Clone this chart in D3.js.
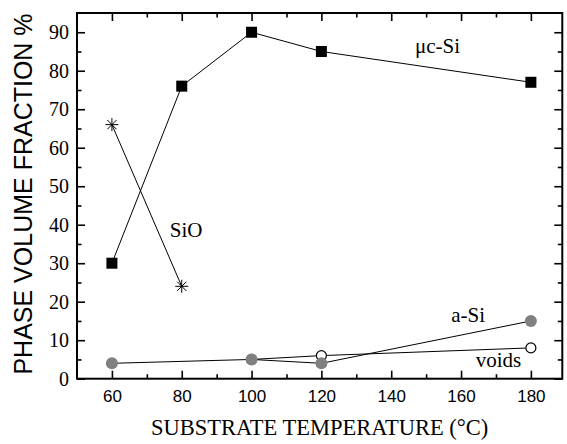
<!DOCTYPE html>
<html>
<head>
<meta charset="utf-8">
<script src="https://cdn.jsdelivr.net/npm/d3@7"></script>
<style>
body { margin: 0; background: #fff; }
</style>
</head>
<body>
<svg id="chart" width="567" height="444"></svg>
<script>
var ucSiTemps = [60, 80, 100, 120, 180]
var ucSiValues = [30, 76, 90, 85, 77]
var sioTemps = [60, 80]
var sioValues = [66, 24]
var aSiTemps = [60, 100, 120, 180]
var aSiValues = [4, 5, 4, 15]
var voidsTemps = [100, 120, 180]
var voidsValues = [5, 6, 8]

var xTicks = [60, 80, 100, 120, 140, 160, 180]
var xMinor = [70, 90, 110, 130, 150, 170]
var yTicks = [0, 10, 20, 30, 40, 50, 60, 70, 80, 90]
var yMinor = [5, 15, 25, 35, 45, 55, 65, 75, 85]

var xTitle = 'SUBSTRATE TEMPERATURE (°C)'
var yTitle = 'PHASE VOLUME FRACTION %'

var serif = '"Liberation Serif", "Times New Roman", serif'
var sans = '"Liberation Sans", Arial, sans-serif'

var svg = d3.select('#chart')

var x = d3.scaleLinear().domain([50, 189]).range([77, 562.3])
var y = d3.scaleLinear().domain([0, 95]).range([378.7, 13])

function pairs(xs, ys) {
    return xs.map(function (d, i) { return [d, ys[i]] })
}

function cleanAxis(g) {
    g.select('.domain').remove()
    g.attr('font-family', null).attr('font-size', null)
    g.selectAll('line').attr('stroke', '#000').attr('stroke-width', 1.6)
}

// ticks point inward on all four sides
var bottom = svg.append('g')
    .attr('transform', 'translate(0,' + y(0) + ')')
    .call(d3.axisBottom(x).tickValues(xTicks).tickSizeInner(-8).tickSizeOuter(0).tickPadding(11).tickFormat(d3.format('d')))
    .call(cleanAxis)
bottom.selectAll('text').attr('font-family', sans).attr('font-size', 17).attr('fill', '#000')

svg.append('g')
    .attr('transform', 'translate(0,' + y(0) + ')')
    .call(d3.axisBottom(x).tickValues(xMinor).tickSizeInner(-4.5).tickSizeOuter(0).tickFormat(''))
    .call(cleanAxis)

svg.append('g')
    .attr('transform', 'translate(0,' + y(95) + ')')
    .call(d3.axisTop(x).tickValues(xTicks).tickSizeInner(-8).tickSizeOuter(0).tickFormat(''))
    .call(cleanAxis)

svg.append('g')
    .attr('transform', 'translate(0,' + y(95) + ')')
    .call(d3.axisTop(x).tickValues(xMinor).tickSizeInner(-4.5).tickSizeOuter(0).tickFormat(''))
    .call(cleanAxis)

var left = svg.append('g')
    .attr('transform', 'translate(' + x(50) + ',0)')
    .call(d3.axisLeft(y).tickValues(yTicks).tickSizeInner(-8).tickSizeOuter(0).tickPadding(8).tickFormat(d3.format('d')))
    .call(cleanAxis)
left.selectAll('text').attr('font-family', serif).attr('font-size', 20).attr('fill', '#000')

svg.append('g')
    .attr('transform', 'translate(' + x(50) + ',0)')
    .call(d3.axisLeft(y).tickValues(yMinor).tickSizeInner(-4.5).tickSizeOuter(0).tickFormat(''))
    .call(cleanAxis)

svg.append('g')
    .attr('transform', 'translate(' + x(189) + ',0)')
    .call(d3.axisRight(y).tickValues(yTicks).tickSizeInner(-8).tickSizeOuter(0).tickFormat(''))
    .call(cleanAxis)

svg.append('g')
    .attr('transform', 'translate(' + x(189) + ',0)')
    .call(d3.axisRight(y).tickValues(yMinor).tickSizeInner(-4.5).tickSizeOuter(0).tickFormat(''))
    .call(cleanAxis)

svg.append('rect')
    .attr('x', x(50))
    .attr('y', y(95))
    .attr('width', x(189) - x(50))
    .attr('height', y(0) - y(95))
    .attr('fill', 'none')
    .attr('stroke', '#000')
    .attr('stroke-width', 2)

var line = d3.line()
    .x(function (d) { return x(d[0]) })
    .y(function (d) { return y(d[1]) })

var series = [pairs(ucSiTemps, ucSiValues), pairs(sioTemps, sioValues), pairs(voidsTemps, voidsValues), pairs(aSiTemps, aSiValues)]

svg.append('g')
    .selectAll('path')
    .data(series)
    .enter()
    .append('path')
    .attr('d', line)
    .attr('fill', 'none')
    .attr('stroke', '#000')
    .attr('stroke-width', 1)

svg.append('g')
    .selectAll('rect')
    .data(pairs(ucSiTemps, ucSiValues))
    .enter()
    .append('rect')
    .attr('x', function (d) { return x(d[0]) - 5.5 })
    .attr('y', function (d) { return y(d[1]) - 5.5 })
    .attr('width', 11)
    .attr('height', 11)
    .attr('fill', '#000')

svg.append('g')
    .selectAll('path')
    .data(pairs(sioTemps, sioValues))
    .enter()
    .append('path')
    .attr('transform', function (d) { return 'translate(' + x(d[0]) + ',' + y(d[1]) + ')' })
    .attr('d', 'M0,-6.5V6.5M-6.5,0H6.5M-4.6,-4.6L4.6,4.6M-4.6,4.6L4.6,-4.6')
    .attr('stroke', '#000')
    .attr('stroke-width', 1)
    .attr('fill', 'none')

svg.append('g')
    .selectAll('circle')
    .data(pairs(voidsTemps, voidsValues))
    .enter()
    .append('circle')
    .attr('cx', function (d) { return x(d[0]) })
    .attr('cy', function (d) { return y(d[1]) })
    .attr('r', 5)
    .attr('fill', '#fff')
    .attr('stroke', '#000')
    .attr('stroke-width', 1.2)

svg.append('g')
    .selectAll('circle')
    .data(pairs(aSiTemps, aSiValues))
    .enter()
    .append('circle')
    .attr('cx', function (d) { return x(d[0]) })
    .attr('cy', function (d) { return y(d[1]) })
    .attr('r', 6)
    .attr('fill', '#808080')

var labels = [
    { text: 'μc-Si', at: [146.8, 84.6] },
    { text: 'SiO', at: [76.6, 36.7] },
    { text: 'a-Si', at: [157.2, 14.8] },
    { text: 'voids', at: [164.2, 3.1] }
]

svg.append('g')
    .selectAll('text')
    .data(labels)
    .enter()
    .append('text')
    .attr('x', function (d) { return x(d.at[0]) })
    .attr('y', function (d) { return y(d.at[1]) })
    .attr('font-family', serif)
    .attr('font-size', 21)
    .text(function (d) { return d.text })

svg.append('text')
    .attr('x', (x(50) + x(189)) / 2)
    .attr('y', 435)
    .attr('text-anchor', 'middle')
    .attr('font-family', serif)
    .attr('font-size', 22.5)
    .text(xTitle)

svg.append('text')
    .attr('transform', 'translate(32,' + 194 + ') rotate(-90)')
    .attr('text-anchor', 'middle')
    .attr('font-family', sans)
    .attr('font-size', 25)
    .text(yTitle)
</script>
</body>
</html>
